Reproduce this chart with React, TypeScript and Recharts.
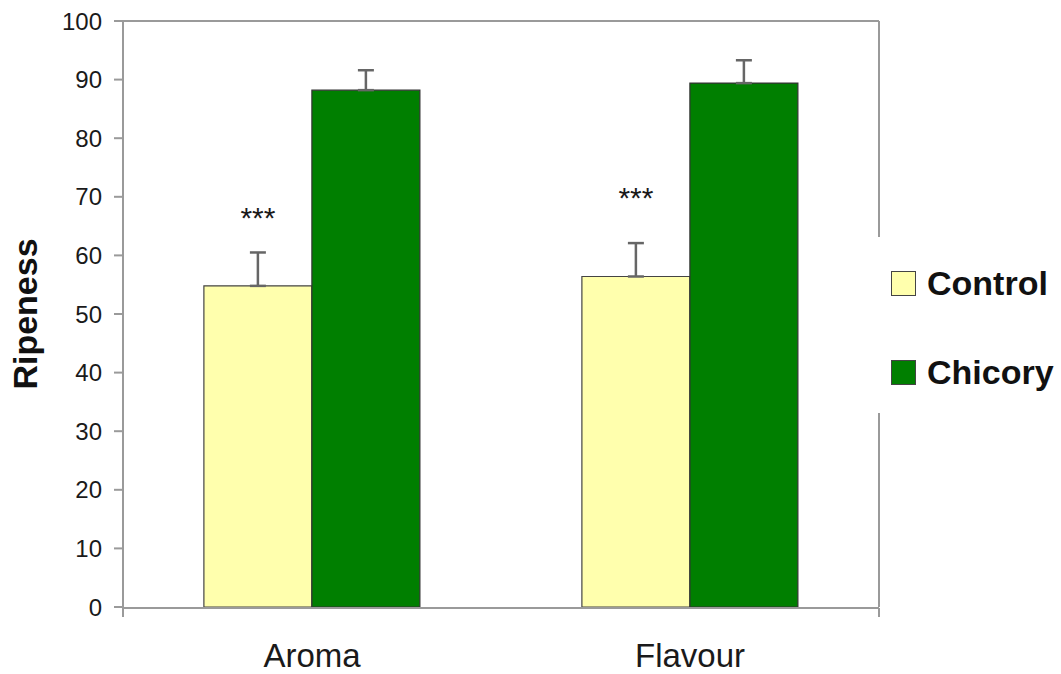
import { BarChart, Bar, XAxis, YAxis, ErrorBar, Legend, LabelList } from 'recharts';

const categories = ['Aroma', 'Flavour'];
const seriesNames = ['Control', 'Chicory'];
const controlValues = [54.8, 56.4];
const controlErrors = [5.7, 5.7];
const chicoryValues = [88.2, 89.4];
const chicoryErrors = [3.4, 3.9];
// level of the "***" marks above the control bars
const starLevels = [67.5, 71];
const yTicks = [0, 10, 20, 30, 40, 50, 60, 70, 80, 90, 100];

const data = categories.map((name, i) => ({
  name,
  control: controlValues[i],
  controlErr: [0, controlErrors[i]],
  chicory: chicoryValues[i],
  chicoryErr: [0, chicoryErrors[i]],
}));

const font = '"Liberation Sans", Arial, sans-serif';
const axisGrey = '#9a9a9a';
const textColor = '#1a1a1a';

function Stars(props: any) {
  const { x, y, width, height, index } = props;
  const perUnit = height / controlValues[index];
  const cy = y + height - starLevels[index] * perUnit;
  return (
    <text
      x={x + width / 2}
      y={cy + 17}
      textAnchor="middle"
      fontSize={30}
      fontFamily={font}
      fill={textColor}
    >
      ***
    </text>
  );
}

function LegendBox(props: any) {
  const items = [...(props.payload || [])].sort(
    (a: any, b: any) => seriesNames.indexOf(a.value) - seriesNames.indexOf(b.value)
  );
  return (
    <div style={{ paddingTop: 26 }}>
      {items.map((entry: any, i: number) => (
        <div
          key={entry.value}
          style={{
            display: 'flex',
            alignItems: 'center',
            height: 40,
            marginTop: i === 0 ? 0 : 49,
            paddingLeft: 11,
            whiteSpace: 'nowrap',
          }}
        >
          <span
            style={{
              display: 'inline-block',
              width: 23,
              height: 23,
              background: entry.color,
              border: '1.5px solid #444',
              marginRight: 11,
            }}
          />
          <span
            style={{
              fontFamily: font,
              fontWeight: 'bold',
              fontSize: 34,
              color: '#111',
            }}
          >
            {entry.value}
          </span>
        </div>
      ))}
    </div>
  );
}

const emptyTick = () => <g />;

export default function App() {
  return (
    <div style={{ position: 'absolute', left: 0, top: 0, background: '#fff' }}>
      <BarChart
        width={1061}
        height={674}
        data={data}
        margin={{ top: 20, right: 0, bottom: 65, left: 0 }}
        barCategoryGap="21.4%"
        barGap={0}
      >
        <XAxis
          xAxisId="frame"
          type="number"
          domain={[0, 2]}
          ticks={[0, 1, 2]}
          allowDataOverflow
          tick={emptyTick}
          tickSize={9}
          height={1}
          axisLine={{ stroke: axisGrey, strokeWidth: 2 }}
          tickLine={{ stroke: axisGrey, strokeWidth: 2 }}
        />
        <XAxis
          xAxisId="cat"
          dataKey="name"
          height={1}
          axisLine={false}
          tickLine={false}
          tickSize={0}
          tickMargin={37}
          tick={{ fontSize: 33, fill: textColor, fontFamily: font }}
        />
        <XAxis
          xAxisId="top"
          orientation="top"
          type="number"
          domain={[0, 2]}
          allowDataOverflow
          tick={false}
          tickLine={false}
          height={1}
          axisLine={{ stroke: axisGrey, strokeWidth: 2 }}
        />
        <YAxis
          domain={[0, 100]}
          ticks={yTicks}
          width={123}
          tickSize={9}
          tickMargin={12}
          axisLine={{ stroke: axisGrey, strokeWidth: 2 }}
          tickLine={{ stroke: axisGrey, strokeWidth: 2 }}
          tick={{ fontSize: 24, fill: textColor, fontFamily: font }}
          label={{
            content: (p: any) => {
              const vb = p.viewBox;
              const cx = vb.x + 37;
              const cy = vb.y + vb.height / 2;
              return (
                <text
                  x={cx}
                  y={cy}
                  transform={`rotate(-90 ${cx} ${cy})`}
                  textAnchor="middle"
                  fontSize={34}
                  fontWeight="bold"
                  fontFamily={font}
                  fill="#111"
                >
                  Ripeness
                </text>
              );
            },
          }}
        />
        <YAxis
          yAxisId="right"
          orientation="right"
          domain={[0, 100]}
          width={1}
          tick={false}
          tickLine={false}
          axisLine={{ stroke: axisGrey, strokeWidth: 2 }}
        />
        <Legend
          layout="vertical"
          align="right"
          verticalAlign="middle"
          content={<LegendBox />}
          wrapperStyle={{
            left: 880,
            top: 237,
            width: 181,
            height: 176,
            background: '#fff',
            boxShadow: '-6px 0 0 #fff',
          }}
        />
        <Bar
          xAxisId="cat"
          dataKey="control"
          name="Control"
          fill="#ffffad"
          stroke="#444"
          strokeWidth={1.2}
          isAnimationActive={false}
        >
          <ErrorBar dataKey="controlErr" direction="y" width={8} stroke="#666" strokeWidth={2.5} />
          <LabelList dataKey="control" content={<Stars />} />
        </Bar>
        <Bar
          xAxisId="cat"
          dataKey="chicory"
          name="Chicory"
          fill="#007f00"
          stroke="#333"
          strokeWidth={1.2}
          isAnimationActive={false}
        >
          <ErrorBar dataKey="chicoryErr" direction="y" width={8} stroke="#666" strokeWidth={2.5} />
        </Bar>
      </BarChart>
    </div>
  );
}
